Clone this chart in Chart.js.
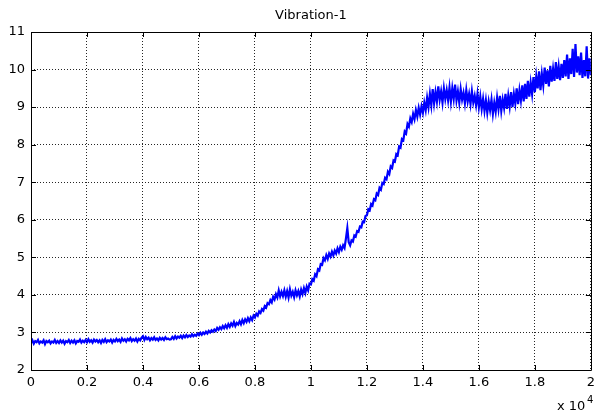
<!DOCTYPE html>
<html>
<head>
<meta charset="utf-8">
<script src="https://cdn.jsdelivr.net/npm/chart.js@4.4.1/dist/chart.umd.min.js"></script>
<style>
  html, body { margin: 0; padding: 0; background: #fff; }
  #wrap { width: 600px; height: 414px; }
</style>
</head>
<body>
<div id="wrap"><canvas id="vib"></canvas></div>
<script>
// chart text
const chartTitle = 'Vibration-1';
const xExponent = '4';

// samples are 50 units apart (x axis shown in units of 10^4)
const sampleStep = 50;

// vibration readings, one row per 0.1 x 10^4
const vibration = [
  2.72, 2.79, 2.70, 2.77, 2.74, 2.80, 2.71, 2.76, 2.73, 2.79, 2.69, 2.77, 2.74, 2.78, 2.71, 2.76, 2.73, 2.80, 2.72, 2.77,
  2.72, 2.79, 2.73, 2.78, 2.70, 2.77, 2.74, 2.80, 2.72, 2.78, 2.73, 2.79, 2.71, 2.77, 2.75, 2.81, 2.73, 2.78, 2.74, 2.80,
  2.74, 2.82, 2.75, 2.79, 2.73, 2.81, 2.76, 2.80, 2.74, 2.79, 2.72, 2.80, 2.75, 2.82, 2.74, 2.79, 2.76, 2.81, 2.73, 2.80,
  2.76, 2.83, 2.77, 2.81, 2.75, 2.84, 2.78, 2.82, 2.76, 2.83, 2.79, 2.85, 2.77, 2.82, 2.78, 2.84, 2.76, 2.83, 2.79, 2.86,
  2.90, 2.80, 2.88, 2.82, 2.86, 2.79, 2.85, 2.81, 2.87, 2.80, 2.84, 2.79, 2.86, 2.81, 2.85, 2.80, 2.87, 2.82, 2.84, 2.81,
  2.82, 2.88, 2.83, 2.90, 2.84, 2.89, 2.86, 2.91, 2.85, 2.92, 2.87, 2.93, 2.88, 2.92, 2.89, 2.95, 2.90, 2.94, 2.91, 2.97,
  2.93, 2.99, 2.94, 3.00, 2.96, 3.02, 2.97, 3.04, 3.00, 3.06, 3.02, 3.08, 3.04, 3.12, 3.07, 3.14, 3.09, 3.17, 3.11, 3.19,
  3.12, 3.22, 3.15, 3.24, 3.18, 3.28, 3.17, 3.25, 3.21, 3.30, 3.22, 3.33, 3.25, 3.35, 3.28, 3.38, 3.30, 3.40, 3.33, 3.45,
  3.40, 3.50, 3.45, 3.56, 3.52, 3.62, 3.58, 3.70, 3.66, 3.78, 3.75, 3.86, 3.80, 3.95, 3.88, 4.02, 3.93, 4.12, 3.96, 4.08,
  3.97, 4.12, 3.95, 4.10, 3.93, 4.15, 3.98, 4.08, 3.94, 4.12, 3.99, 4.10, 3.96, 4.14, 4.02, 4.18, 4.05, 4.22, 4.12, 4.30,
  4.28, 4.42, 4.38, 4.55, 4.50, 4.68, 4.65, 4.82, 4.80, 4.98, 4.92, 5.06, 4.96, 5.10, 5.02, 5.15, 5.05, 5.18, 5.10, 5.24,
  5.14, 5.28, 5.20, 5.32, 5.25, 5.50, 5.78, 5.40, 5.32, 5.45, 5.42, 5.58, 5.55, 5.70, 5.68, 5.82, 5.80, 5.95, 5.94, 6.10,
  6.12, 6.28, 6.25, 6.42, 6.38, 6.55, 6.52, 6.70, 6.66, 6.85, 6.80, 6.98, 6.95, 7.12, 7.08, 7.28, 7.22, 7.42, 7.38, 7.58,
  7.55, 7.75, 7.72, 7.95, 7.92, 8.15, 8.12, 8.35, 8.30, 8.55, 8.48, 8.70, 8.60, 8.82, 8.68, 8.92, 8.75, 8.98, 8.80, 9.02,
  8.85, 9.12, 8.92, 9.25, 9.00, 9.35, 9.05, 9.48, 9.10, 9.40, 9.15, 9.55, 9.20, 9.42, 9.12, 9.50, 9.22, 9.45, 9.18, 9.52,
  9.15, 9.50, 9.22, 9.60, 9.18, 9.42, 9.12, 9.48, 9.20, 9.38, 9.10, 9.45, 9.15, 9.35, 9.08, 9.42, 9.12, 9.30, 9.05, 9.35,
  9.00, 9.28, 8.95, 9.22, 8.90, 9.18, 8.85, 9.15, 8.92, 9.20, 8.82, 9.12, 8.88, 9.25, 8.95, 9.30, 8.90, 9.20, 8.98, 9.35,
  8.95, 9.30, 9.02, 9.40, 9.00, 9.35, 9.10, 9.50, 9.08, 9.45, 9.18, 9.58, 9.15, 9.62, 9.22, 9.70, 9.28, 9.65, 9.35, 9.80,
  9.40, 9.82, 9.50, 9.95, 9.45, 9.88, 9.58, 10.05, 9.62, 9.98, 9.55, 10.10, 9.68, 10.02, 9.70, 10.20, 9.75, 10.08, 9.72, 10.15,
  9.78, 10.25, 9.82, 10.40, 9.75, 10.30, 9.88, 10.55, 9.80, 10.68, 9.92, 10.35, 9.85, 10.45, 9.78, 10.25, 9.82, 10.62, 9.76, 10.30,
  9.85
];

// axis ranges and ticks
const xMin = 0, xMax = 20000, xTickStep = 2000;
const yMin = 2, yMax = 11, yTickStep = 1;

const points = vibration.map((v, i) => ({ x: i * sampleStep, y: v }));

const textFont = '13px "DejaVu Sans", Arial, sans-serif';

// MATLAB-like frame: box, inward ticks, title and the exponent note
const matlabFrame = {
  id: 'matlabFrame',
  afterDraw(chart) {
    const ctx = chart.ctx;
    const a = chart.chartArea;
    const xs = chart.scales.x;
    const ys = chart.scales.y;
    const tick = 5;
    ctx.save();
    ctx.strokeStyle = '#000';
    ctx.lineWidth = 1;
    ctx.setLineDash([]);
    ctx.beginPath();
    ctx.rect(Math.round(a.left) + 0.5, Math.round(a.top) + 0.5,
             Math.round(a.right - a.left), Math.round(a.bottom - a.top));
    for (const t of xs.ticks) {
      const px = Math.round(xs.getPixelForValue(t.value)) + 0.5;
      ctx.moveTo(px, a.bottom); ctx.lineTo(px, a.bottom - tick);
      ctx.moveTo(px, a.top); ctx.lineTo(px, a.top + tick);
    }
    for (const t of ys.ticks) {
      const py = Math.round(ys.getPixelForValue(t.value)) + 0.5;
      ctx.moveTo(a.left, py); ctx.lineTo(a.left + tick, py);
      ctx.moveTo(a.right, py); ctx.lineTo(a.right - tick, py);
    }
    ctx.stroke();

    ctx.fillStyle = '#000';
    ctx.font = textFont;
    ctx.textAlign = 'center';
    ctx.textBaseline = 'middle';
    ctx.fillText(chartTitle, (a.left + a.right) / 2, 16);

    ctx.textAlign = 'left';
    ctx.fillText('x 10', 557, 407);
    ctx.font = '10px "DejaVu Sans", Arial, sans-serif';
    ctx.fillText(xExponent, 587, 400);
    ctx.restore();
  }
};

new Chart(document.getElementById('vib'), {
  type: 'line',
  data: {
    datasets: [{
      data: points,
      borderColor: '#0000ff',
      borderWidth: 2.2,
      pointRadius: 0,
      tension: 0,
      fill: false
    }]
  },
  options: {
    responsive: true,
    maintainAspectRatio: false,
    animation: false,
    devicePixelRatio: 1,
    layout: { padding: { top: 32, right: 5, left: 0, bottom: 0 } },
    plugins: {
      legend: { display: false },
      title: { display: false },
      tooltip: { enabled: false }
    },
    scales: {
      x: {
        type: 'linear',
        min: xMin,
        max: xMax,
        afterFit(scale) { scale.height = 44; },
        ticks: {
          stepSize: xTickStep,
          padding: 5,
          color: '#000',
          font: { family: '"DejaVu Sans", Arial, sans-serif', size: 13 },
          maxRotation: 0,
          callback: v => String(+(v / 10000).toFixed(1))
        },
        grid: { color: 'rgba(0,0,0,0.85)', lineWidth: 1, drawTicks: false },
        border: { display: false, dash: [1, 2] }
      },
      y: {
        min: yMin,
        max: yMax,
        afterFit(scale) { scale.width = 31; },
        ticks: {
          stepSize: yTickStep,
          padding: 6,
          color: '#000',
          font: { family: '"DejaVu Sans", Arial, sans-serif', size: 13 }
        },
        grid: { color: 'rgba(0,0,0,0.85)', lineWidth: 1, drawTicks: false },
        border: { display: false, dash: [1, 2] }
      }
    }
  },
  plugins: [matlabFrame]
});
</script>
</body>
</html>
